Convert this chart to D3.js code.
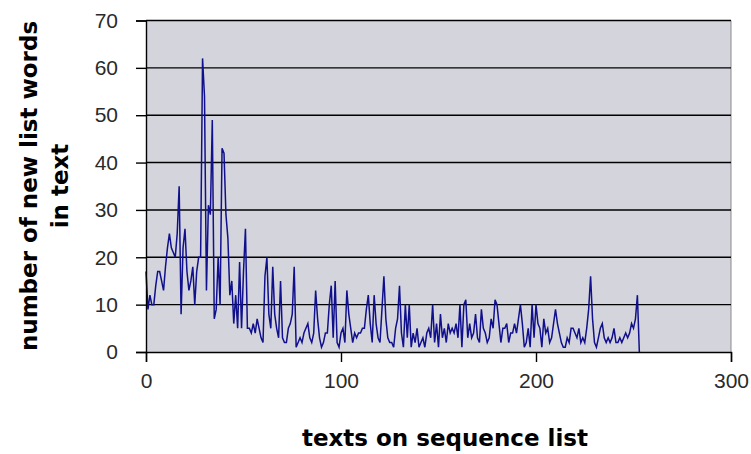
<!DOCTYPE html>
<html>
<head>
<meta charset="utf-8">
<script src="https://cdn.jsdelivr.net/npm/d3@7"></script>
<style>
html,body{margin:0;padding:0;background:#fff;}
svg{display:block;}
</style>
</head>
<body>
<svg id="chart" width="751" height="454"></svg>
<script>
// Data: number of new list words in each text (index = text position on sequence list)
const newWords = [
 17, 9, 12, 10, 10, 14, 17, 17, 15, 13,
 18, 22, 25, 22, 21, 20, 25, 35, 8, 22,
 26, 17, 13, 15, 18, 10, 17, 20, 20, 62,
 54, 13, 31, 29, 49, 7, 9, 20, 10, 43,
 42, 29, 24, 12, 15, 6, 12, 5, 19, 5,
 17, 26, 5, 5, 4, 6, 4, 7, 5, 3,
 2, 16, 20, 8, 5, 18, 8, 5, 3, 15,
 3, 2, 2, 5, 6, 8, 18, 1, 2, 3,
 2, 4, 5, 6, 3, 2, 4, 13, 7, 3,
 1, 2, 4, 4, 10, 14, 3, 15, 2, 1,
 4, 5, 2, 13, 8, 5, 2, 4, 3, 4,
 4, 5, 5, 9, 12, 6, 2, 12, 6, 3,
 2, 9, 16, 7, 3, 2, 2, 1, 5, 7,
 14, 4, 1, 10, 3, 10, 1, 4, 2, 5,
 1, 2, 3, 1, 4, 5, 3, 10, 2, 6,
 1, 8, 3, 5, 2, 6, 4, 5, 4, 6,
 3, 10, 1, 10, 11, 3, 6, 3, 4, 8,
 3, 2, 9, 5, 4, 2, 3, 7, 5, 11,
 10, 6, 2, 5, 5, 6, 2, 4, 4, 6,
 4, 7, 10, 6, 1, 2, 5, 1, 10, 3,
 10, 6, 5, 1, 7, 4, 5, 2, 3, 6,
 9, 6, 4, 2, 1, 1, 3, 2, 5, 5,
 4, 3, 5, 2, 3, 2, 5, 9, 16, 7,
 2, 1, 3, 5, 6, 3, 2, 3, 2, 3,
 5, 2, 2, 3, 2, 3, 4, 3, 4, 6,
 5, 7, 12, 0
];
const xTicks = [0, 100, 200, 300];
const yTicks = [0, 10, 20, 30, 40, 50, 60, 70];
const xTitle = "texts on sequence list";
const yTitleLines = ["number of new list words", "in text"];

const svg = d3.select("#chart");
const pL = 146, pR = 731, pT = 20.5, pB = 352;

const x = d3.scaleLinear().domain([0, 300]).range([pL, pR]);
const y = d3.scaleLinear().domain([0, 70]).range([pB, pT]);

// plot area background
svg.append("rect")
  .attr("x", pL).attr("y", pT)
  .attr("width", pR - pL).attr("height", pB - pT)
  .attr("fill", "#d4d4dc");

// right border
svg.append("line")
  .attr("x1", pR).attr("x2", pR).attr("y1", pT).attr("y2", pB)
  .attr("stroke", "#8c8c8c").attr("stroke-width", 1);

// gridlines
svg.append("g").selectAll("line")
  .data(yTicks.filter(d => d > 0))
  .join("line")
  .attr("x1", pL).attr("x2", pR)
  .attr("y1", d => y(d)).attr("y2", d => y(d))
  .attr("stroke", "#000").attr("stroke-width", 1.4);

// data line
const line = d3.line()
  .x((d, i) => x(i))
  .y(d => y(d));
svg.append("path")
  .datum(newWords)
  .attr("d", line)
  .attr("fill", "none")
  .attr("stroke", "#10108c")
  .attr("stroke-width", 1.5)
  .attr("stroke-linejoin", "miter");

// axes
const tickFont = "'Liberation Sans', Arial, sans-serif";
const titleFont = "'DejaVu Sans', Verdana, sans-serif";
const xAxis = d3.axisBottom(x).tickValues(xTicks).tickSize(10).tickPadding(11).tickFormat(d3.format("d"));
const gx = svg.append("g").attr("transform", `translate(0,${pB})`).call(xAxis);
gx.select(".domain").attr("stroke", "#000").attr("stroke-width", 1.4);
gx.selectAll(".tick line").attr("stroke", "#000").attr("stroke-width", 1.4);
gx.selectAll(".tick text").attr("font-family", tickFont).attr("font-size", 21).attr("fill", "#2a2a2a");

const yAxis = d3.axisLeft(y).tickValues(yTicks).tickSize(10).tickPadding(18).tickFormat(d3.format("d"));
const gy = svg.append("g").attr("transform", `translate(${pL},0)`).call(yAxis);
gy.select(".domain").attr("stroke", "#000").attr("stroke-width", 1.4);
gy.selectAll(".tick line").attr("stroke", "#000").attr("stroke-width", 1.4);
gy.selectAll(".tick text").attr("font-family", tickFont).attr("font-size", 21).attr("fill", "#2a2a2a");

// axis titles
svg.append("text")
  .attr("x", 445).attr("y", 446)
  .attr("text-anchor", "middle")
  .attr("font-family", titleFont).attr("font-weight", "bold").attr("font-size", 23)
  .attr("fill", "#000")
  .text(xTitle);

const yt = svg.append("text")
  .attr("transform", "translate(37,186) rotate(-90)")
  .attr("text-anchor", "middle")
  .attr("font-family", titleFont).attr("font-weight", "bold").attr("font-size", 23)
  .attr("fill", "#000");
yt.selectAll("tspan").data(yTitleLines).join("tspan")
  .attr("x", 0).attr("dy", (d, i) => i === 0 ? 0 : 31)
  .text(d => d);
</script>
</body>
</html>
